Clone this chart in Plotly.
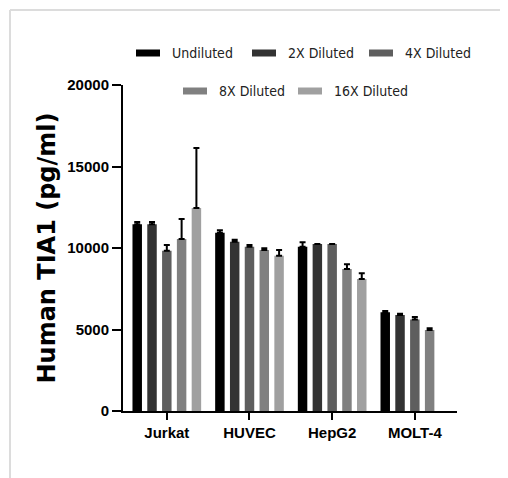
import plotly.graph_objects as go

categories = ["Jurkat", "HUVEC", "HepG2", "MOLT-4"]
series_names = ["Undiluted", "2X Diluted", "4X Diluted", "8X Diluted", "16X Diluted"]
series_colors = ["#000000", "#333333", "#5e5e5e", "#808080", "#a0a0a0"]

undiluted = [11450, 10940, 10080, 6055]
diluted_2x = [11450, 10380, 10245, 5890]
diluted_4x = [9830, 10080, 10245, 5620]
diluted_8x = [10550, 9880, 8710, 4970]
diluted_16x = [12450, 9530, 8100, None]

err_undiluted = [150, 150, 270, 80]
err_2x = [150, 120, 0, 80]
err_4x = [350, 100, 0, 150]
err_8x = [1230, 100, 290, 100]
err_16x = [3680, 350, 350, 0]

y_ticks = [0, 5000, 10000, 15000, 20000]
y_tick_labels = ["0", "5000", "10000", "15000", "20000"]

values = [undiluted, diluted_2x, diluted_4x, diluted_8x, diluted_16x]
errors = [err_undiluted, err_2x, err_4x, err_8x, err_16x]

W, H = 508, 478
OFF = 8  # page body margin
# plot area in page pixels
L, R, T, B = 123, 457, 85, 411


def px(x):
    return (x - L) / (R - L)


def py(y):
    return (B - y) / (B - T)


fig = go.Figure()
for name, col, vals, errs in zip(series_names, series_colors, values, errors):
    fig.add_trace(go.Bar(
        x=categories, y=vals, name=name,
        marker=dict(color=col, line=dict(width=0)),
        error_y=dict(type="data", array=errs, arrayminus=[0] * len(errs),
                     symmetric=False, color="#000000", thickness=2, width=3),
        showlegend=False,
    ))

shapes = []
annotations = []
# outer light gray frame
shapes.append(dict(type="line", xref="paper", yref="paper",
                   x0=px(10), x1=px(W + 20), y0=py(10), y1=py(10),
                   line=dict(color="#dcdcdc", width=2)))
shapes.append(dict(type="line", xref="paper", yref="paper",
                   x0=px(10), x1=px(10), y0=py(10), y1=py(H + 20),
                   line=dict(color="#dcdcdc", width=2)))

# custom legend
legend_pos = [(136, 53), (252, 53), (369, 53), (183, 91), (298, 91)]
for (lx, ly), name, col in zip(legend_pos, series_names, series_colors):
    shapes.append(dict(type="rect", xref="paper", yref="paper",
                       x0=px(lx), x1=px(lx + 24), y0=py(ly - 3.5), y1=py(ly + 3.5),
                       fillcolor=col, line=dict(width=0)))
    annotations.append(dict(xref="paper", yref="paper", x=px(lx + 35), y=py(ly),
                            xanchor="left", yanchor="middle", showarrow=False,
                            borderpad=0,
                            text=name,
                            font=dict(family="DejaVu Sans Condensed, Liberation Sans Narrow, Arial",
                                      size=14, color="#222222")))

fig.update_layout(
    width=W, height=H,
    margin=dict(l=L - OFF, r=W - (R - OFF), t=T - OFF, b=H - (B - OFF), pad=0),
    paper_bgcolor="white", plot_bgcolor="white",
    barmode="group", bargap=0.105, bargroupgap=0.36,
    shapes=shapes, annotations=annotations,
    xaxis=dict(range=[-0.53, 3.51], showline=True, linecolor="black", linewidth=2,
               ticks="outside", ticklen=7, tickwidth=2, tickcolor="black",
               showgrid=False, zeroline=False,
               tickfont=dict(family="Liberation Sans, Arial", size=15, color="black",
                             weight="bold")),
    yaxis=dict(range=[0, 20000], tickvals=y_ticks, ticktext=y_tick_labels,
               showline=True, linecolor="black",
               linewidth=2, ticks="outside", ticklen=9, tickwidth=2, tickcolor="black",
               showgrid=False, zeroline=False,
               tickfont=dict(family="Liberation Sans, Arial", size=15, color="black",
                             weight="bold"),
               title=dict(text="Human TIA1 (pg/ml)", standoff=5,
                          font=dict(family="DejaVu Sans, Arial", size=24, color="black",
                                    weight="bold"))),
)

fig.write_html("out.html")
